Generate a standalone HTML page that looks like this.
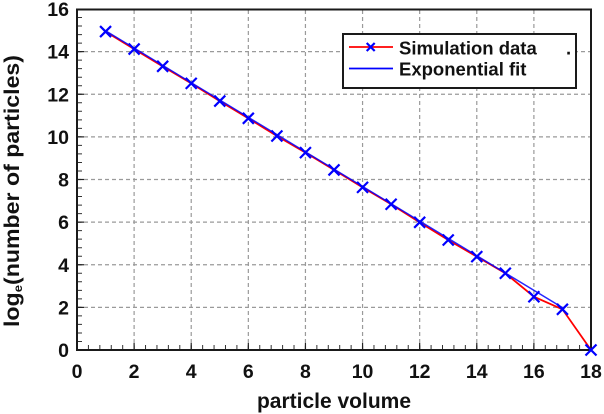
<!DOCTYPE html>
<html>
<head>
<meta charset="utf-8">
<style>
html,body{margin:0;padding:0;background:#fff;}
svg{display:block;}
text{font-family:"Liberation Sans",Arial,sans-serif;font-weight:bold;fill:#111;}
</style>
</head>
<body>
<svg width="604" height="414" viewBox="0 0 604 414" xmlns="http://www.w3.org/2000/svg">
  <rect x="0" y="0" width="604" height="414" fill="#fff"/>
  <!-- grid -->
  <g stroke="#9a9a9a" stroke-width="1.2" stroke-dasharray="4 3" fill="none">
    <line x1="134.11" y1="10" x2="134.11" y2="350"/>
    <line x1="191.22" y1="10" x2="191.22" y2="350"/>
    <line x1="248.33" y1="10" x2="248.33" y2="350"/>
    <line x1="305.44" y1="10" x2="305.44" y2="350"/>
    <line x1="362.56" y1="10" x2="362.56" y2="350"/>
    <line x1="419.67" y1="10" x2="419.67" y2="350"/>
    <line x1="476.78" y1="10" x2="476.78" y2="350"/>
    <line x1="533.89" y1="10" x2="533.89" y2="350"/>
    <line x1="77" y1="307.38" x2="591" y2="307.38"/>
    <line x1="77" y1="264.75" x2="591" y2="264.75"/>
    <line x1="77" y1="222.13" x2="591" y2="222.13"/>
    <line x1="77" y1="179.5" x2="591" y2="179.5"/>
    <line x1="77" y1="136.88" x2="591" y2="136.88"/>
    <line x1="77" y1="94.25" x2="591" y2="94.25"/>
    <line x1="77" y1="51.63" x2="591" y2="51.63"/>
  </g>
  <!-- minor ticks -->
  <line x1="76.5" y1="347.5" x2="591" y2="347.5" stroke="#333" stroke-width="5" stroke-dasharray="1 10.422"/>
  <line x1="79.5" y1="350.5" x2="79.5" y2="9" stroke="#333" stroke-width="5" stroke-dasharray="1 7.5250"/>
  <!-- major ticks -->
  <g stroke="#222" stroke-width="1.2">
    <line x1="134.11" y1="350" x2="134.11" y2="343"/>
    <line x1="191.22" y1="350" x2="191.22" y2="343"/>
    <line x1="248.33" y1="350" x2="248.33" y2="343"/>
    <line x1="305.44" y1="350" x2="305.44" y2="343"/>
    <line x1="362.56" y1="350" x2="362.56" y2="343"/>
    <line x1="419.67" y1="350" x2="419.67" y2="343"/>
    <line x1="476.78" y1="350" x2="476.78" y2="343"/>
    <line x1="533.89" y1="350" x2="533.89" y2="343"/>
    <line x1="77" y1="307.38" x2="84" y2="307.38"/>
    <line x1="77" y1="264.75" x2="84" y2="264.75"/>
    <line x1="77" y1="222.13" x2="84" y2="222.13"/>
    <line x1="77" y1="179.5" x2="84" y2="179.5"/>
    <line x1="77" y1="136.88" x2="84" y2="136.88"/>
    <line x1="77" y1="94.25" x2="84" y2="94.25"/>
    <line x1="77" y1="51.63" x2="84" y2="51.63"/>
  </g>
  <!-- frame -->
  <rect x="77" y="9.5" width="514" height="340.5" fill="none" stroke="#1a1a1a" stroke-width="2"/>

  <!-- simulation data -->
  <polyline fill="none" stroke="#ff0000" stroke-width="1.8" points="105.56,31.59 134.11,49.07 162.67,66.33 191.22,83.38 219.78,101.07 248.33,118.33 276.89,136.02 305.44,152.65 334,169.91 362.56,187.39 391.11,204.22 419.67,222.34 448.22,240.03 476.78,256.65 505.33,273.27 533.89,296.72 562.44,309.29 591,350"/>
  <!-- fit line -->
  <line x1="105.56" y1="30.8" x2="562.44" y2="307.6" stroke="#0000ff" stroke-width="1.5" stroke-opacity="0.85"/>
  <!-- markers -->
  <g stroke="#0000ff" stroke-width="2.2" fill="none">
    <path d="M100.06,26.09l11,11M100.06,37.09l11,-11"/>
    <path d="M128.61,43.57l11,11M128.61,54.57l11,-11"/>
    <path d="M157.17,60.83l11,11M157.17,71.83l11,-11"/>
    <path d="M185.72,77.88l11,11M185.72,88.88l11,-11"/>
    <path d="M214.28,95.57l11,11M214.28,106.57l11,-11"/>
    <path d="M242.83,112.83l11,11M242.83,123.83l11,-11"/>
    <path d="M271.39,130.52l11,11M271.39,141.52l11,-11"/>
    <path d="M299.94,147.15l11,11M299.94,158.15l11,-11"/>
    <path d="M328.5,164.41l11,11M328.5,175.41l11,-11"/>
    <path d="M357.06,181.89l11,11M357.06,192.89l11,-11"/>
    <path d="M385.61,198.72l11,11M385.61,209.72l11,-11"/>
    <path d="M414.17,216.84l11,11M414.17,227.84l11,-11"/>
    <path d="M442.72,234.53l11,11M442.72,245.53l11,-11"/>
    <path d="M471.28,251.15l11,11M471.28,262.15l11,-11"/>
    <path d="M499.83,267.77l11,11M499.83,278.77l11,-11"/>
    <path d="M528.39,291.22l11,11M528.39,302.22l11,-11"/>
    <path d="M556.94,303.79l11,11M556.94,314.79l11,-11"/>
    <path d="M585.5,344.5l11,11M585.5,355.5l11,-11"/>
  </g>

  <!-- legend -->
  <rect x="343" y="34" width="233" height="54" fill="#fff" stroke="#1a1a1a" stroke-width="2"/>
  <line x1="349" y1="47" x2="393" y2="47" stroke="#ff0000" stroke-width="1.8"/>
  <path d="M366.7,43l8,8M366.7,51l8,-8" stroke="#0000ff" stroke-width="2.2"/>
  <line x1="349" y1="68.5" x2="393" y2="68.5" stroke="#0000ff" stroke-width="1.8"/>
  <text x="399" y="54.5" font-size="18.5">Simulation data</text>
  <text x="399" y="75.5" font-size="18.5">Exponential fit</text>
  <text x="566" y="54.5" font-size="18.5">.</text>

  <!-- y tick labels -->
  <g font-size="19.5" text-anchor="end">
    <text x="69" y="357">0</text>
    <text x="69" y="314.4">2</text>
    <text x="69" y="271.8">4</text>
    <text x="69" y="229.1">6</text>
    <text x="69" y="186.5">8</text>
    <text x="69" y="143.9">10</text>
    <text x="69" y="101.3">12</text>
    <text x="69" y="58.6">14</text>
    <text x="69" y="16">16</text>
  </g>
  <!-- x tick labels -->
  <g font-size="19.5" text-anchor="middle">
    <text x="77" y="378">0</text>
    <text x="134.11" y="378">2</text>
    <text x="191.22" y="378">4</text>
    <text x="248.33" y="378">6</text>
    <text x="305.44" y="378">8</text>
    <text x="362.56" y="378">10</text>
    <text x="419.67" y="378">12</text>
    <text x="476.78" y="378">14</text>
    <text x="533.89" y="378">16</text>
    <text x="591" y="378">18</text>
  </g>
  <!-- axis titles -->
  <text x="334" y="408" font-size="21" text-anchor="middle">particle volume</text>
  <text transform="translate(19,191) rotate(-90)" font-size="21" text-anchor="middle" textLength="272" lengthAdjust="spacingAndGlyphs">log<tspan font-size="12" dy="3">e</tspan><tspan dy="-3">(number of particles)</tspan></text>
</svg>
</body>
</html>
